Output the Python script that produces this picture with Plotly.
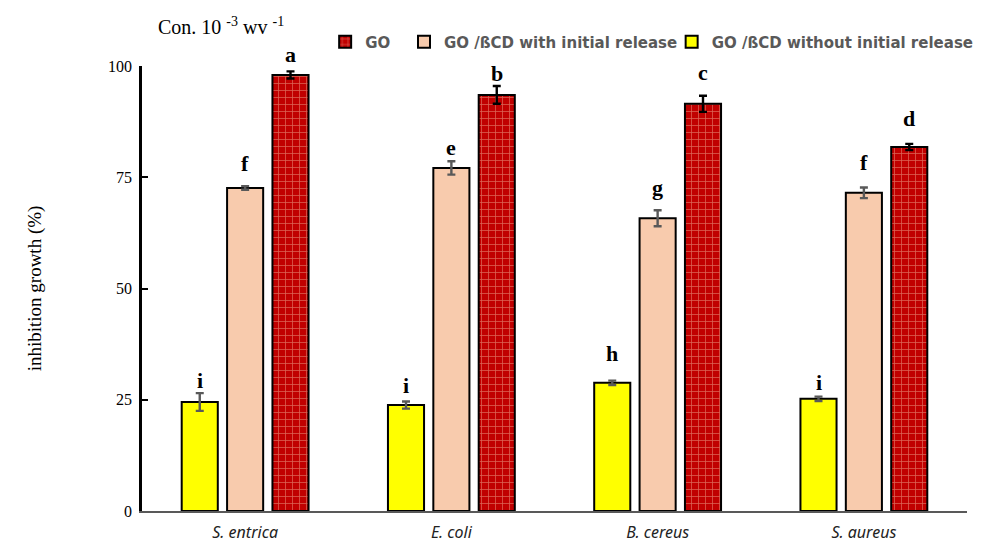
import plotly.graph_objects as go

categories = ["S. entrica", "E. coli", "B. cereus", "S. aureus"]
series_names = ["GO /ßCD without initial release", "GO /ßCD with initial release", "GO"]
without_release = [24.5, 23.8, 28.8, 25.2]
without_err = [2.0, 0.8, 0.5, 0.5]
with_release = [72.6, 77.1, 65.8, 71.5]
with_err = [0.4, 1.5, 1.8, 1.2]
go_vals = [98.0, 93.5, 91.5, 81.8]
go_err = [0.8, 2.0, 1.8, 0.7]
letters_without = ["i", "i", "h", "i"]
letters_with = ["f", "e", "g", "f"]
letters_go = ["a", "b", "c", "d"]
# heights (in axis units) of the significance letters
letter_y_without = [29.4, 28.3, 35.5, 28.8]
letter_y_with = [78.2, 81.6, 72.6, 78.4]
letter_y_go = [102.5, 98.4, 98.6, 88.3]
y_range = [0, 100]
y_ticks = [0, 25, 50, 75, 100]

values = [without_release, with_release, go_vals]
errors = [without_err, with_err, go_err]
letters = [letters_without, letters_with, letters_go]
letter_y = [letter_y_without, letter_y_with, letter_y_go]

bar_w = 0.175
step = 0.22
offsets = [-step, 0.0, step]
fills = ["#FFFF00", "#F8CBAD", "#C00000"]
err_colors = ["#595959", "#595959", "black"]
legend_ids = ["legend4", "legend3", "legend2"]

fig = go.Figure()
for k in range(3):
    xs = [i + offsets[k] for i in range(len(categories))]
    marker = dict(color=fills[k], line=dict(color="black", width=2))
    if k == 2:
        marker["pattern"] = dict(shape="+", bgcolor="#C00000", fgcolor="#F8CBAD",
                                 size=7, solidity=0.2, fillmode="overlay")
    fig.add_trace(go.Bar(
        x=xs, y=values[k], width=bar_w, name=series_names[k], marker=marker,
        error_y=dict(type="data", array=errors[k], color=err_colors[k], thickness=2.4, width=4),
        legend=legend_ids[k], showlegend=True,
    ))

annotations = []
span = y_range[1] - y_range[0]
for k in range(3):
    for i in range(len(categories)):
        annotations.append(dict(
            x=i + offsets[k], xref="x",
            y=(letter_y[k][i] - y_range[0]) / span, yref="paper",
            text=letters[k][i], showarrow=False, yanchor="middle", xanchor="center",
            font=dict(family="Liberation Serif", size=22, color="black", weight="bold"),
        ))
annotations.append(dict(
    text="Con. 10 <sup>-3</sup> wv <sup>-1</sup>", x=0.0, y=1.09,
    xref="paper", yref="paper", xanchor="left", yanchor="middle",
    xshift=14, showarrow=False,
    font=dict(family="Liberation Serif", size=20, color="black"),
))

leg_font = dict(family="DejaVu Sans", size=15, color="#595959", weight="bold")
def leg(x):
    return dict(orientation="h", x=x, y=1.054, xanchor="left", yanchor="middle",
                font=leg_font, itemwidth=30, bgcolor="rgba(0,0,0,0)")

fig.update_layout(
    width=987, height=543,
    margin=dict(l=142, r=20, t=66, b=32, autoexpand=False),
    plot_bgcolor="white", paper_bgcolor="white",
    barmode="overlay",
    legend2=leg(0.222), legend3=leg(0.3176), legend4=leg(0.642),
    annotations=annotations,
)
fig.update_xaxes(
    range=[-0.5, len(categories) - 0.5], tickvals=list(range(len(categories))),
    ticktext=["<i>" + c + "</i>" for c in categories],
    showline=True, linecolor="#595959", linewidth=1.5, ticks="",
    showgrid=False, zeroline=False, ticklabelstandoff=6, automargin=False,
    tickfont=dict(family="Noto Sans", size=16, color="#222"),
)
fig.update_yaxes(
    range=y_range, tickvals=y_ticks,
    showline=True, linecolor="black", linewidth=2.5,
    ticks="inside", ticklen=6, tickwidth=2, tickcolor="black",
    showgrid=False, zeroline=False, ticklabelstandoff=4, automargin=False,
    tickfont=dict(family="Liberation Serif", size=16, color="black"),
    title=dict(text="inhibition growth (%)", standoff=62,
               font=dict(family="Liberation Serif", size=19, color="black")),
)

fig.write_html("out.html")
